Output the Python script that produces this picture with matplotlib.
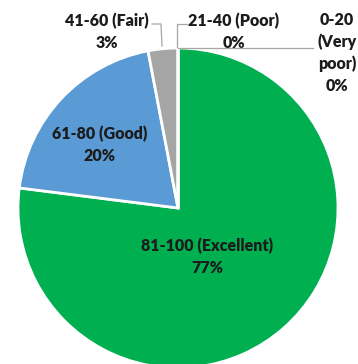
import matplotlib.pyplot as plt

# score bands, clockwise from 12 o'clock
labels = ["81-100 (Excellent)", "61-80 (Good)", "41-60 (Fair)", "21-40 (Poor)", "0-20\n(Very\npoor)"]
shares = [77, 20, 3, 0, 0]
colors = ["#00B050", "#5B9BD5", "#A5A5A5", "#ED7D31", "#FFC000"]

W, H = 358, 364
cx, cy, R = 178, 208, 160   # pie centre and radius in pixels

def px(x, y):
    # pixel position -> data coords (pie radius = 1)
    return (x - cx) / R, (cy - y) / R

fig = plt.figure(figsize=(W / 100, H / 100), dpi=100)
ax = fig.add_axes([0, 0, 1, 1])
ax.pie(shares, colors=colors, startangle=90, counterclock=False,
       wedgeprops=dict(edgecolor="white", linewidth=2))
ax.set_xlim(-cx / R, (W - cx) / R)
ax.set_ylim(-(H - cy) / R, cy / R)
ax.set_aspect("equal")
ax.axis("off")

txt = dict(fontsize=11.5, fontweight="heavy", color="#1c1c1c", ha="center", va="center",
           family=["Lato", "DejaVu Sans"], linespacing=1.4)

def label(i, x, y):
    ax.text(*px(x, y), f"{labels[i]}\n{shares[i]}%", **txt)

label(0, 207, 257)
label(1, 100, 145)
label(2, 107, 32)
label(3, 234, 32)
label(4, 337, 53)

# leader lines for the small slices
lc = dict(color="#A6A6A6", linewidth=0.9)
for pts in ([(152, 24), (161, 24), (162, 46)],
            [(177, 47), (177, 24), (187, 24)],
            [(178, 47.5), (313, 47.5)]):
    xs, ys = zip(*[px(x, y) for x, y in pts])
    ax.plot(xs, ys, **lc)

fig.savefig("out.png", dpi=100)
